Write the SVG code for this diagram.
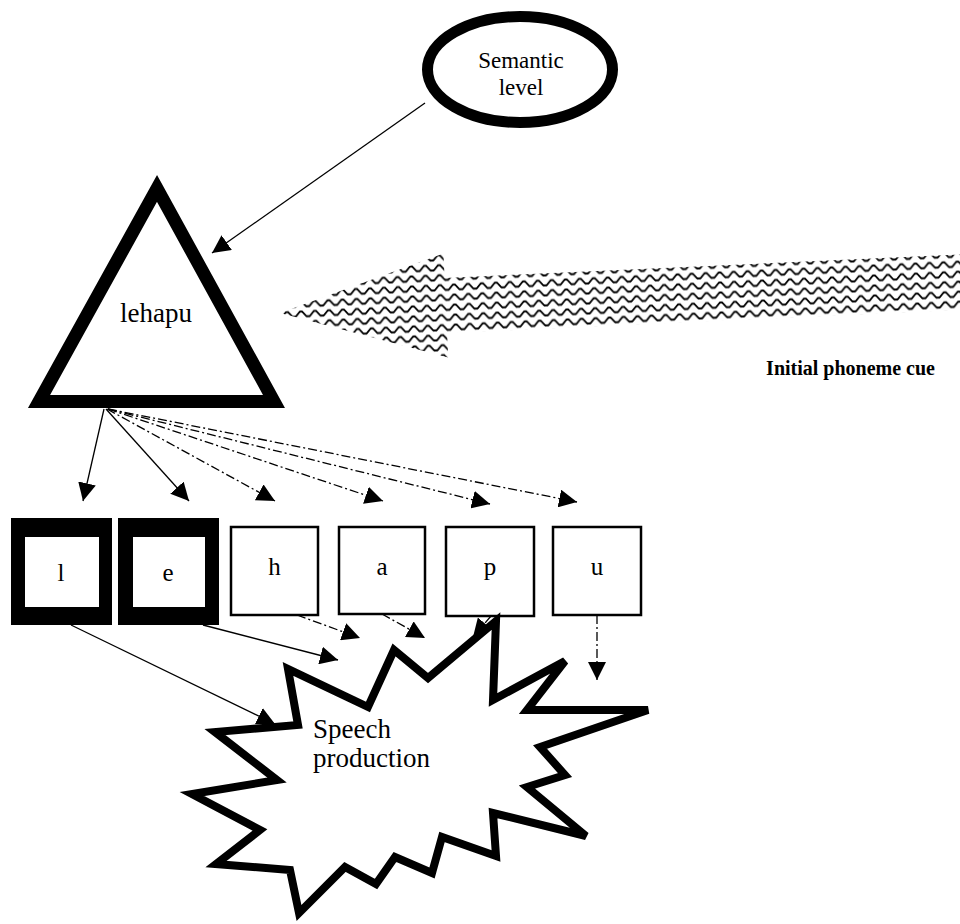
<svg xmlns="http://www.w3.org/2000/svg" width="960" height="924" viewBox="0 0 960 924">
  <style>
    .lbl { font-family: "Liberation Serif", "Times New Roman", serif; fill: #000; }
    .cue { font-family: "Liberation Serif", "Times New Roman", serif; font-weight: bold; fill: #000; }
    .solid { fill: none; stroke: #000; stroke-width: 1.3; }
    .dashdot { fill: none; stroke: #000; stroke-width: 1.3; stroke-dasharray: 9 3 2 3; }
    .thinbox { fill: #fff; stroke: #000; stroke-width: 2.5; }
    .thickbox { fill: #000; fill-rule: evenodd; }
  </style>
  <defs>
    <marker id="ah" viewBox="0 0 18 18" refX="18" refY="9" markerWidth="18" markerHeight="18" markerUnits="userSpaceOnUse" orient="auto">
      <path d="M0,0 L18,9 L0,18 z" fill="#000"/>
    </marker>
    <!-- zigzag hatching for the cue arrow -->
    <pattern id="wave" width="14" height="10" patternUnits="userSpaceOnUse">
      <path d="M0,7.5 L1.5,7.5 L6,2.5 L8,2.5 L12.5,7.5 L14,7.5" fill="none" stroke="#000" stroke-width="1.8"/>
    </pattern>
  </defs>

  <rect width="960" height="924" fill="#fff"/>

  <!-- block arrow with zigzag fill -->
  <g id="cue-arrow">
    <polygon transform="rotate(-2.6 280 313)" fill="url(#wave)"
             points="280,313 446,261 446,285.5 990,285.5 990,340.5 446,340.5 446,365"/>
    <text class="cue" x="935" y="375" font-size="20" text-anchor="end">Initial phoneme cue</text>
  </g>

  <g id="semantic">
    <ellipse cx="520" cy="69.5" rx="92.5" ry="53" fill="#fff" stroke="#000" stroke-width="11"/>
    <text class="lbl" font-size="23" text-anchor="middle"><tspan x="521" y="68">Semantic</tspan><tspan x="521" y="95">level</tspan></text>
  </g>

  <g id="word">
    <polygon points="157,188.4 274,401.5 39,401.5" fill="#fff" stroke="#000" stroke-width="13" stroke-linejoin="miter"/>
    <text class="lbl" x="156" y="322" font-size="27" text-anchor="middle">lehapu</text>
  </g>

  <g id="ph-l">
    <path class="thickbox" d="M11,518 H112 V625 H11 Z M25,537 V607 H99 V537 Z"/>
    <text class="lbl" x="61" y="581" font-size="25" text-anchor="middle">l</text>
  </g>
  <g id="ph-e">
    <path class="thickbox" d="M118,518 H219 V625 H118 Z M133,537 V607 H205 V537 Z"/>
    <text class="lbl" x="168" y="581" font-size="25" text-anchor="middle">e</text>
  </g>
  <g id="ph-h">
    <rect class="thinbox" x="231" y="527" width="87" height="88"/>
    <text class="lbl" x="274.5" y="575" font-size="25" text-anchor="middle">h</text>
  </g>
  <g id="ph-a">
    <rect class="thinbox" x="339" y="527" width="86" height="87"/>
    <text class="lbl" x="382" y="575" font-size="25" text-anchor="middle">a</text>
  </g>
  <g id="ph-p">
    <rect class="thinbox" x="446" y="527" width="88" height="89"/>
    <text class="lbl" x="490" y="575" font-size="25" text-anchor="middle">p</text>
  </g>
  <g id="ph-u">
    <rect class="thinbox" x="553" y="527" width="88" height="88"/>
    <text class="lbl" x="597" y="575" font-size="25" text-anchor="middle">u</text>
  </g>

  <g id="speech">
    <polygon fill="#fff" stroke="#000" stroke-width="8" stroke-linejoin="miter"
             points="496,621 493,700 565,661 527,710 648,710 540,747 565,775 527,787 586,836 493,813 496,856 442,837 432,873 395,857 376,884 345,867 299,913 290,870 216,864 260,830 192,794 277,780 215,732 298,725 288,669 368,707 394,650 428,678"/>
    <text class="lbl" font-size="27"><tspan x="313" y="738">Speech</tspan><tspan x="313" y="767">production</tspan></text>
  </g>

  <g id="connectors">
    <line class="solid" x1="425" y1="103" x2="212" y2="253" marker-end="url(#ah)"/>

    <line class="solid" x1="104" y1="409" x2="83" y2="501" marker-end="url(#ah)"/>
    <line class="solid" x1="106" y1="409" x2="189" y2="501" marker-end="url(#ah)"/>
    <line class="dashdot" x1="107" y1="409" x2="275" y2="501" marker-end="url(#ah)"/>
    <line class="dashdot" x1="108" y1="409" x2="383" y2="501" marker-end="url(#ah)"/>
    <line class="dashdot" x1="108" y1="409" x2="490" y2="504" marker-end="url(#ah)"/>
    <line class="dashdot" x1="108" y1="409" x2="577" y2="502" marker-end="url(#ah)"/>

    <line class="solid" x1="71" y1="625" x2="275" y2="724" marker-end="url(#ah)"/>
    <line class="solid" x1="203" y1="625" x2="338" y2="660" marker-end="url(#ah)"/>
    <line class="dashdot" x1="297" y1="615" x2="360" y2="638" marker-end="url(#ah)"/>
    <line class="dashdot" x1="382" y1="614" x2="425" y2="638" marker-end="url(#ah)"/>
    <line class="dashdot" x1="491" y1="616" x2="473" y2="637" marker-end="url(#ah)"/>
    <line class="dashdot" x1="597" y1="615" x2="597" y2="680" marker-end="url(#ah)"/>
  </g>
</svg>
